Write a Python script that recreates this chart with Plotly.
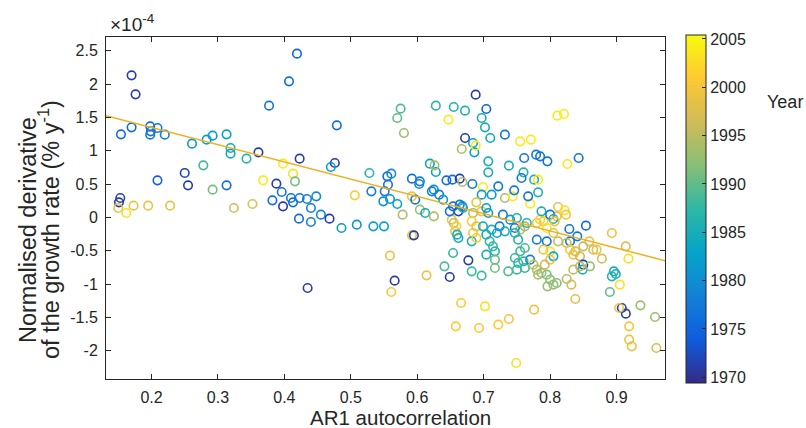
import plotly.graph_objects as go

# AR1 autocorrelation (x), normalised derivative of growth rate (units of 1e-4 % y^-1), year
ar1 = [0.170, 0.176, 0.154, 0.170, 0.198, 0.199, 0.198, 0.209, 0.220, 0.209, 0.250, 0.255, 0.261, 0.278, 0.283,
       0.292, 0.292, 0.313, 0.319, 0.319, 0.313, 0.343, 0.361, 0.377, 0.407, 0.419, 0.398, 0.368, 0.388, 0.413,
       0.416, 0.396, 0.423, 0.153, 0.151, 0.150, 0.162, 0.173, 0.195, 0.228, 0.324, 0.352, 0.382, 0.410, 0.413,
       0.398, 0.422, 0.479, 0.575, 0.570, 0.580, 0.628, 0.655, 0.672, 0.647, 0.688, 0.672, 0.667, 0.684, 0.686,
       0.688, 0.476, 0.470, 0.528, 0.555, 0.561, 0.592, 0.604, 0.603, 0.619, 0.628, 0.626, 0.644, 0.653, 0.664,
       0.668, 0.683, 0.506, 0.531, 0.551, 0.556, 0.423, 0.434, 0.448, 0.440, 0.440, 0.455, 0.468, 0.486, 0.509,
       0.534, 0.550, 0.549, 0.559, 0.570, 0.578, 0.592, 0.597, 0.604, 0.612, 0.625, 0.625, 0.633, 0.639, 0.622,
       0.654, 0.662, 0.668, 0.652, 0.655, 0.659, 0.657, 0.660, 0.662, 0.592, 0.595, 0.559, 0.654, 0.677, 0.682,
       0.641, 0.649, 0.614, 0.566, 0.561, 0.435, 0.666, 0.658, 0.693, 0.704, 0.697, 0.702, 0.710, 0.732, 0.755,
       0.771, 0.707, 0.707, 0.738, 0.761, 0.779, 0.796, 0.760, 0.757, 0.776, 0.782, 0.782, 0.811, 0.821, 0.785,
       0.826, 0.843, 0.812, 0.822, 0.699, 0.722, 0.712, 0.697, 0.689, 0.732, 0.744, 0.746, 0.770, 0.767, 0.664,
       0.669, 0.649, 0.684, 0.697, 0.704, 0.707, 0.729, 0.740, 0.750, 0.682, 0.689, 0.684, 0.682, 0.689, 0.699,
       0.704, 0.712, 0.709, 0.714, 0.717, 0.724, 0.732, 0.720, 0.747, 0.755, 0.747, 0.762, 0.765, 0.780, 0.785,
       0.790, 0.795, 0.805, 0.780, 0.795, 0.790, 0.800, 0.805, 0.800, 0.752, 0.704, 0.717, 0.697, 0.717, 0.737,
       0.750, 0.752, 0.747, 0.760, 0.762, 0.755, 0.762, 0.770, 0.775, 0.780, 0.782, 0.787, 0.792, 0.795, 0.800,
       0.805, 0.810, 0.702, 0.722, 0.738, 0.776, 0.749, 0.824, 0.810, 0.787, 0.800, 0.805, 0.807, 0.829, 0.854,
       0.841, 0.830, 0.893, 0.914, 0.918, 0.859, 0.865, 0.870, 0.878, 0.850, 0.812, 0.825, 0.830, 0.838, 0.845,
       0.835, 0.850, 0.849, 0.835, 0.860, 0.845, 0.796, 0.825, 0.832, 0.838, 0.896, 0.899, 0.893, 0.890, 0.905,
       0.908, 0.914, 0.904, 0.936, 0.958, 0.919, 0.919, 0.923, 0.960]

deriv = [2.13, 1.845, 1.245, 1.35, 1.365, 1.29, 1.24, 1.34, 1.24, 0.555, 0.666, 0.48, 1.105, 0.78, 1.165,
         1.225, 0.415, 1.245, 1.04, 0.955, 0.48, 0.88, 0.975, 1.675, 2.04, 2.455, 0.805, 0.555, 0.505, 0.655,
         0.54, 0.38, 0.88, 0.29, 0.225, 0.14, 0.065, 0.175, 0.175, 0.175, 0.14, 0.20, 0.255, 0.29, 0.225,
         0.165, -0.02, 1.38, 1.63, 1.49, 1.265, 1.675, 1.655, 1.60, 1.465, 1.84, 1.19, 1.025, 1.115, 0.975,
         1.075, 0.815, 0.755, 0.665, 0.615, 0.655, 0.58, 0.54, 0.50, 0.805, 0.68, 0.78, 0.555, 0.565, 0.58,
         0.53, 0.50, 0.33, 0.39, 0.39, 0.49, 0.29, 0.275, 0.315, 0.14, -0.07, 0.04, -0.02, -0.16, -0.11,
         -0.135, -0.135, 0.24, 0.275, 0.20, 0.04, 0.315, 0.265, 0.115, 0.065, 0.015, 0.415, 0.34, 0.265, 0.39,
         0.165, 0.09, 0.165, -0.035, -0.085, -0.135, -0.21, -0.26, -0.31, -0.27, -0.27, -0.575, -0.535, -0.645, -0.81,
         -0.735, -0.895, -0.87, -0.95, -1.12, -1.06, -1.285, -1.635, -1.66, 1.625, 1.49, 1.35, 1.19, 1.24, 1.14,
         1.165, 0.84, 0.675, 0.775, 0.89, 0.94, 0.84, 0.675, 0.59, 0.565, 0.565, 0.375, 1.525, 1.55, 0.915,
         0.80, 0.89, 0.155, 0.105, 0.455, 0.465, 0.34, 0.34, 0.225, 0.29, 0.315, 0.405, 0.205, 0.315, 0.19,
         0.14, 0.09, 0.065, 0.09, 0.14, 0.065, 0.04, -0.035, -0.01, -0.06, -0.135, -0.235, -0.36, -0.31, -0.135,
         -0.26, -0.185, -0.36, -0.435, -0.51, -0.135, -0.21, -0.235, -0.16, -0.185, -0.235, -0.135, -0.085, -0.085, -0.035,
         -0.06, -0.16, -0.235, -0.335, -0.36, -0.485, -0.51, -0.585, -0.635, -0.335, -0.56, -0.635, -0.875, -0.76, -0.81,
         -0.785, -0.685, -0.61, -0.66, -0.76, -0.51, -0.46, -0.635, -0.71, -0.785, -0.86, -0.835, -0.71, -0.86, -0.935,
         -1.01, -0.985, -1.335, -1.61, -1.525, -1.385, -2.185, 0.04, 0.015, 0.09, 0.04, -0.025, -0.06, -0.175, -0.125,
         -0.285, -0.36, -0.235, -0.435, -0.62, -0.36, -0.485, -0.485, -0.62, -0.435, -0.36, -0.385, -0.485, -0.51, -0.585,
         -0.56, -0.71, -0.785, -0.785, -0.735, -0.735, -1.035, -0.925, -1.01, -1.225, -0.81, -0.85, -0.885, -1.12, -1.01,
         -1.36, -1.445, -1.36, -1.32, -1.495, -1.635, -1.835, -1.935, -1.96]

year = [1971, 1971, 1976, 1976, 1976, 1977, 1977, 1977, 1978, 1974, 1972, 1971, 1982, 1988, 1982,
        1982, 1991, 1982, 1984, 1984, 1976, 1986, 1971, 1977, 1976, 1975, 2004, 2004, 1971, 2003,
        1991, 1977, 1971, 1972, 1971, 1999, 2003, 1999, 1999, 1999, 1997, 1998, 1976, 1977, 1976,
        1971, 1976, 1976, 1989, 1990, 1993, 1987, 1986, 1986, 2004, 1971, 1971, 1994, 1983, 1983,
        2004, 1971, 1982, 1987, 1976, 1980, 1976, 1978, 1979, 1983, 1983, 1994, 1976, 1976, 1971,
        1994, 1977, 2001, 1978, 1977, 1977, 1977, 1978, 1979, 1978, 1978, 1979, 1971, 1982, 1981,
        1982, 1982, 1980, 1981, 1983, 1994, 1999, 1977, 1993, 1984, 1994, 1980, 1977, 1982, 1979,
        1977, 1972, 1978, 1999, 1996, 2001, 1999, 1985, 1984, 1999, 1971, 1999, 1988, 1971, 1988,
        1989, 1971, 1999, 1971, 2001, 1971, 2001, 2001, 2001, 1975, 1985, 1985, 1984, 1977, 2004,
        2004, 1985, 1985, 1985, 1977, 1977, 1977, 1986, 1977, 1986, 2004, 1986, 2004, 2004, 1977,
        2004, 1977, 1999, 2003, 2004, 1977, 1982, 1982, 1999, 1994, 2004, 1977, 2004, 1977, 1977,
        1985, 1977, 1994, 1999, 1982, 1982, 1977, 1981, 1986, 2001, 1999, 1999, 1986, 2001, 1985,
        1984, 1986, 1987, 1988, 1987, 1978, 1985, 1983, 1977, 1994, 1986, 1994, 1986, 1999, 2002,
        2001, 2003, 1999, 1978, 1977, 1999, 2003, 1983, 1999, 1986, 1985, 1990, 1988, 1991, 1989,
        1988, 1987, 1988, 1988, 1987, 1988, 1989, 1978, 1996, 1995, 1994, 1993, 1996, 1992, 1992,
        1993, 1992, 2003, 2001, 2000, 1999, 2003, 2000, 1999, 1986, 1977, 1986, 1999, 1977, 1976,
        1977, 1977, 1999, 1997, 2003, 1999, 1997, 1999, 1997, 1996, 1996, 1995, 2001, 1997, 1996,
        1999, 1971, 1985, 1996, 1993, 1995, 1993, 1995, 1997, 1998, 1985, 1985, 1986, 1990, 2003,
        1971, 1971, 2000, 1993, 1993, 2000, 1999, 1999, 1997]

# linear trend (end points across the x range)
trend_x = [0.1315, 0.973]
trend_y = [1.525, -0.65]

x_ticks = [0.2, 0.3, 0.4, 0.5, 0.6, 0.7, 0.8, 0.9]
x_ticklabels = ["0.2", "0.3", "0.4", "0.5", "0.6", "0.7", "0.8", "0.9"]
y_ticks = [-2, -1.5, -1, -0.5, 0, 0.5, 1, 1.5, 2, 2.5]
y_ticklabels = ["-2", "-1.5", "-1", "-0.5", "0", "0.5", "1", "1.5", "2", "2.5"]
cbar_ticks = [1970, 1975, 1980, 1985, 1990, 1995, 2000, 2005]

parula = [[0.0, "#352A87"], [0.125, "#0F5CDD"], [0.25, "#1481D6"], [0.375, "#06A4CA"],
          [0.5, "#2EB7A4"], [0.625, "#87BF77"], [0.75, "#D1BB59"], [0.875, "#FEC832"], [1.0, "#F9FB0E"]]

FONT = "Liberation Sans, Arial, Helvetica, sans-serif"
INK = "#262626"

fig = go.Figure()
fig.add_trace(go.Scatter(
    x=ar1, y=deriv, mode="markers",
    marker=dict(symbol="circle-open", size=8.5, color=year, colorscale=parula,
                cmin=1969.4, cmax=2005.4, line=dict(width=1.6),
                colorbar=dict(x=1.0376, xanchor="left", y=0.497, yanchor="middle",
                              thickness=20, thicknessmode="pixels", len=348, lenmode="pixels",
                              outlinecolor=INK, outlinewidth=1, tickvals=cbar_ticks,
                              ticks="inside", ticklen=4, tickcolor=INK,
                              tickfont=dict(family=FONT, size=16, color=INK), xpad=0, ypad=0)),
    showlegend=False, hoverinfo="x+y"))
fig.add_trace(go.Scatter(x=trend_x, y=trend_y, mode="lines",
                         line=dict(color="#EDB120", width=1.5), showlegend=False))

axis_common = dict(showline=True, linecolor=INK, linewidth=1, mirror="ticks", ticks="inside",
                   ticklen=5, tickcolor=INK, showgrid=False, zeroline=False,
                   tickfont=dict(family=FONT, size=16, color=INK))
fig.update_xaxes(range=[0.1315, 0.973], tickvals=x_ticks, ticktext=x_ticklabels,
                 ticklabelstandoff=4, **axis_common)
fig.update_yaxes(range=[-2.425, 2.705], tickvals=y_ticks, ticktext=y_ticklabels,
                 ticklabelstandoff=4, **axis_common)

fig.update_layout(
    width=806, height=428, margin=dict(l=106, r=141, t=37, b=49),
    plot_bgcolor="white", paper_bgcolor="white",
    font=dict(family=FONT, color=INK),
    annotations=[
        dict(text="×10<sup>-4</sup>", xref="paper", yref="paper", x=0.0036, y=1.0,
             xanchor="left", yanchor="bottom", showarrow=False, font=dict(size=19, color=INK)),
        dict(text="Normalised derivative", xref="paper", yref="paper",
             x=-0.1395, y=0.4357, xanchor="center", yanchor="middle", textangle=-90, showarrow=False,
             font=dict(size=23.5, color=INK)),
        dict(text="of the growth rate (% y<sup>-1</sup>)", xref="paper", yref="paper",
             x=-0.102, y=0.4386, xanchor="center", yanchor="middle", textangle=-90, showarrow=False,
             font=dict(size=23.5, color=INK)),
        dict(text="AR1 autocorrelation", xref="paper", yref="paper", x=0.5277, y=-0.114,
             xanchor="center", yanchor="middle", showarrow=False, font=dict(size=20.5, color=INK)),
        dict(text="Year", xref="paper", yref="paper", x=1.2147, y=0.81,
             xanchor="center", yanchor="middle", showarrow=False, font=dict(size=18, color=INK)),
    ],
)

# remove the default 8px page margin so the figure fills the 806x428 window exactly
fig.write_html("out.html", config={"displayModeBar": False},
               post_script="document.body.style.margin='0';document.body.style.overflow='hidden';")
